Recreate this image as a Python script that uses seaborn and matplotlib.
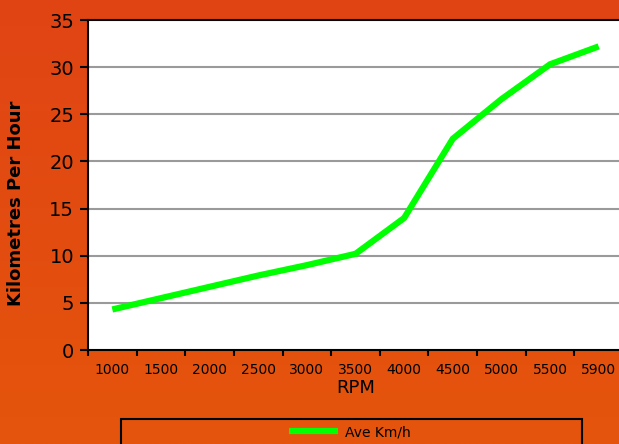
import numpy as np
import pandas as pd
import seaborn as sns
import matplotlib.pyplot as plt
from matplotlib.patches import Rectangle

rpm = ['1000', '1500', '2000', '2500', '3000', '3500', '4000', '4500', '5000', '5500', '5900']
kmh = [4.3, 5.5, 6.7, 7.9, 9.0, 10.2, 14.0, 22.4, 26.6, 30.3, 32.2]
series_name = 'Ave Km/h'

df = pd.DataFrame({'RPM': rpm, 'kmh': kmh})

sns.set_style('white')
plt.rcParams['font.family'] = ['DejaVu Sans']
plt.rcParams['text.color'] = 'black'
plt.rcParams['axes.labelcolor'] = 'black'
plt.rcParams['xtick.color'] = 'black'
plt.rcParams['ytick.color'] = 'black'

fig = plt.figure(figsize=(6.19, 4.44), dpi=100)

# orange gradient background
bg = fig.add_axes([0, 0, 1, 1], zorder=-10)
grad = np.linspace(0, 1, 256).reshape(-1, 1)
top = np.array([224, 68, 20]) / 255
bot = np.array([229, 85, 12]) / 255
img = top + (bot - top) * grad[:, :, None]
bg.imshow(img, aspect='auto', extent=[0, 1, 0, 1])
bg.axis('off')

ax = fig.add_axes([88 / 619, 1 - 350 / 444, 535 / 619, 330 / 444])
ax.set_facecolor('white')
sns.lineplot(data=df, x='RPM', y='kmh', color='#00ff00', linewidth=4.5,
             ax=ax, label=series_name, legend=False,
             solid_capstyle='butt', solid_joinstyle='miter')

ax.set_xlim(-0.5, 10.5)
ax.set_ylim(0, 35)
ax.set_yticks(range(0, 40, 5))
ax.set_xticks(range(len(rpm)))
ax.set_xticklabels(rpm, fontsize=10)
ax.set_xticks(np.arange(-0.5, 10.5, 1), minor=True)
ax.tick_params(axis='x', which='major', length=0, pad=9, bottom=True)
ax.tick_params(axis='x', which='minor', length=4, width=1.5, color='black', bottom=True)
ax.tick_params(axis='y', length=6, width=1.5, labelsize=14, color='black', pad=4, left=True)

for v in range(5, 35, 5):
    ax.axhline(v, color='#9a9a9a', linewidth=1.5, zorder=0)

for s in ['left', 'bottom', 'top']:
    ax.spines[s].set_color('black')
    ax.spines[s].set_linewidth(1.5)
ax.spines['right'].set_visible(False)

ax.set_xlabel('RPM', fontsize=13, labelpad=2)
ax.set_ylabel('Kilometres Per Hour', fontsize=13, fontweight='bold')
ax.yaxis.set_label_coords(-0.118, 0.445)

# legend box
fig.patches.append(Rectangle((121 / 619, -0.05), (582 - 121) / 619, 1 - 419 / 444 + 0.05,
                             transform=fig.transFigure, facecolor='none',
                             edgecolor='black', linewidth=1.5))
handles, labels = ax.get_legend_handles_labels()
fig.legend(handles, labels, loc='center', bbox_to_anchor=(350 / 619, 1 - 432 / 444),
           frameon=False, fontsize=10, handlelength=3.5, handletextpad=0.5)

fig.savefig('out.png', dpi=100, facecolor=fig.get_facecolor())
